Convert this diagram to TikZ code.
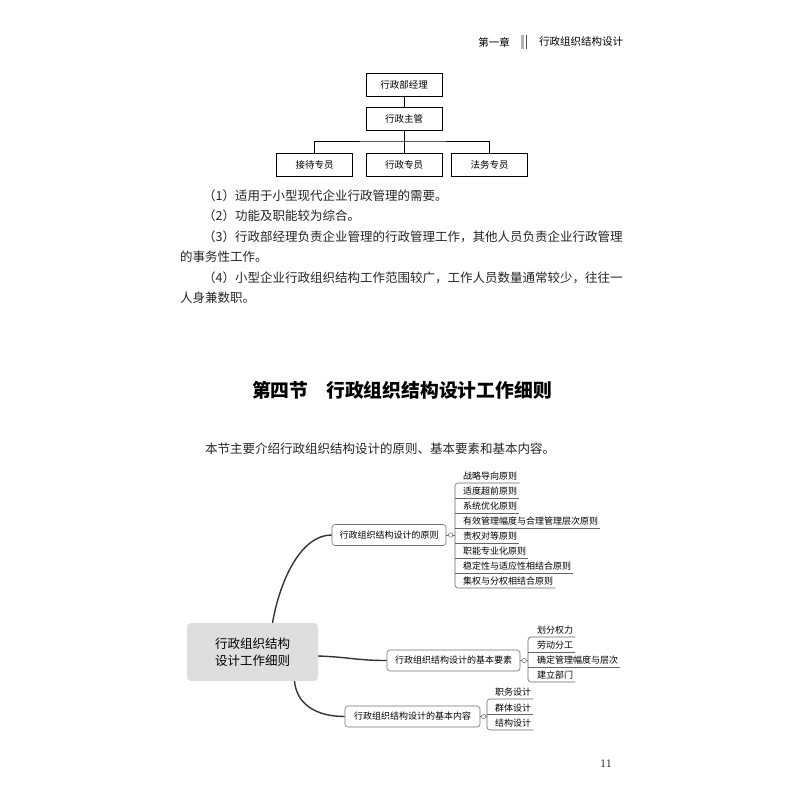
\documentclass[tikz,border=0pt]{standalone}
\usepackage{fontspec}
\newfontfamily\cjk{Noto Sans CJK SC}
\usetikzlibrary{positioning,calc}

\begin{document}
\begin{tikzpicture}[
    x=1pt, y=-1pt,
    txt/.style={font=\cjk\fontsize{12.5}{12.5}\selectfont, text=black!85,
                anchor=west, inner sep=0pt},
    org/.style={rectangle, draw, line width=0.6pt, minimum width=76pt,
                minimum height=23pt, font=\cjk\fontsize{9.5}{9.5}\selectfont},
    topic/.style={rectangle, rounded corners=4pt, fill=black!13, minimum width=131pt,
                  minimum height=58pt, align=center,
                  font=\cjk\fontsize{12.5}{17}\selectfont},
    sub/.style={rectangle, rounded corners=3pt, draw=black!55, line width=0.6pt,
                fill=white, minimum height=21pt, font=\cjk\fontsize{9}{9}\selectfont},
    leaf/.style={anchor=south west, inner xsep=0pt, inner ysep=2.5pt,
                 font=\cjk\fontsize{9}{9}\selectfont},
    branch/.style={line width=1.4pt, black!80},
    uline/.style={line width=0.6pt, black!60},
    knob/.style={circle, draw=black!55, fill=white, line width=0.5pt,
                 inner sep=0pt, minimum size=4.5pt}
]
    \fill[white] (0,0) rectangle (800,800);
    \useasboundingbox (0,0) rectangle (800,800);

    % running head
    \node[font=\cjk\fontsize{10.5}{10.5}\selectfont] (chap) at (494,42) {第一章};
    \fill[black!30] (520.5,35) rectangle (523.5,49);
    \fill[black!70] (526,35) rectangle (527,49);
    \node[font=\cjk\fontsize{10.5}{10.5}\selectfont] (runtitle) at (581,42) {行政组织结构设计};

    % org chart
    \node[org] (mgr)   at (404,85)   {行政部经理};
    \node[org] (chief) at (404,119)  {行政主管};
    \node[org] (mid)   at (404,165)  {行政专员};
    \node[org] (left)  at (314.5,165) {接待专员};
    \node[org] (right) at (489.5,165) {法务专员};
    \coordinate (bus) at (404,141);
    \draw[line width=0.6pt] (mgr) -- (chief);
    \draw[line width=0.6pt] (chief) -- (mid);
    \draw[line width=0.6pt] (left.north) |- (bus) -| (right.north);

    % body text
    \node[txt] (p1)  at (203,196) {（1）适用于小型现代企业行政管理的需要。};
    \node[txt] (p2)  at (203,216) {（2）功能及职能较为综合。};
    \node[txt] (p3)  at (203,237) {（3）行政部经理负责企业管理的行政管理工作，其他人员负责企业行政管理};
    \node[txt] (p3b) at (180,257) {的事务性工作。};
    \node[txt] (p4)  at (203,278) {（4）小型企业行政组织结构工作范围较广，工作人员数量通常较少，往往一};
    \node[txt] (p4b) at (180,298) {人身兼数职。};

    \node[font=\cjk\bfseries\fontsize{18.8}{18.8}\selectfont] (sect) at (402,390)
        {第四节\hspace{18pt}行政组织结构设计工作细则};
    \node[txt] (intro) at (205,449) {本节主要介绍行政组织结构设计的原则、基本要素和基本内容。};

    % mind map
    \node[topic] (root) at (252.5,652) {行政组织结构\\设计工作细则};
    \node[sub, minimum width=114pt] (b1) at (389,535)   {行政组织结构设计的原则};
    \node[sub, minimum width=133pt] (b2) at (453.5,660.5) {行政组织结构设计的基本要素};
    \node[sub, minimum width=135pt] (b3) at (412.5,716.5) {行政组织结构设计的基本内容};

    \draw[branch] ($(root.north)+(20,0)$) .. controls +(8,-45) and +(-30,0) .. (b1.west);
    \draw[branch] ($(root.east)+(0,4)$) .. controls +(30,1) and +(-30,0) .. (b2.west);
    \draw[branch] ($(root.south)+(42,0)$) .. controls +(2,22) and +(-30,0) .. (b3.west);

    \coordinate (k1) at (455,535);
    \coordinate (k2) at (528,660.5);
    \coordinate (k3) at (487,716.5);

    \foreach \t [count=\i] in {战略导向原则, 适度超前原则, 系统优化原则,
        有效管理幅度与合理管理层次原则, 责权对等原则, 职能专业化原则,
        稳定性与适应性相结合原则, 集权与分权相结合原则}
        \node[leaf] (a\i) at (463,468+15*\i) {\t};
    \foreach \t [count=\i] in {划分权力, 劳动分工, 确定管理幅度与层次, 建立部门}
        \node[leaf] (e\i) at (537,622+15*\i) {\t};
    \foreach \t [count=\i] in {职务设计, 群体设计, 结构设计}
        \node[leaf] (c\i) at (495,683.5+15.5*\i) {\t};

    \draw[uline, rounded corners=3pt] ([xshift=2pt]a1.south east) -| (k1)
        |- ([xshift=2pt]a8.south east);
    \foreach \i in {2,...,7}
        \draw[uline] (k1 |- a\i.south) -- ([xshift=2pt]a\i.south east);
    \draw[uline, rounded corners=3pt] ([xshift=2pt]e1.south east) -| (k2)
        |- ([xshift=2pt]e4.south east);
    \foreach \i in {2,3}
        \draw[uline] (k2 |- e\i.south) -- ([xshift=2pt]e\i.south east);
    \draw[uline, rounded corners=3pt] ([xshift=2pt]c1.south east) -| (k3)
        |- ([xshift=2pt]c3.south east);
    \draw[uline] (k3 |- c2.south) -- ([xshift=2pt]c2.south east);

    \draw[uline] (b1.east) -- (k1);
    \draw[uline] (b2.east) -- (k2);
    \draw[uline] (b3.east) -- (k3);
    \node[knob] (d1) at ($(b1.east)!0.5!(k1)$) {};
    \node[knob] (d2) at ($(b2.east)!0.5!(k2)$) {};
    \node[knob] (d3) at ($(b3.east)!0.5!(k3)$) {};

    % folio
    \node[font=\fontsize{11.5}{11.5}\selectfont] (folio) at (606,764) {11};
\end{tikzpicture}
\end{document}
